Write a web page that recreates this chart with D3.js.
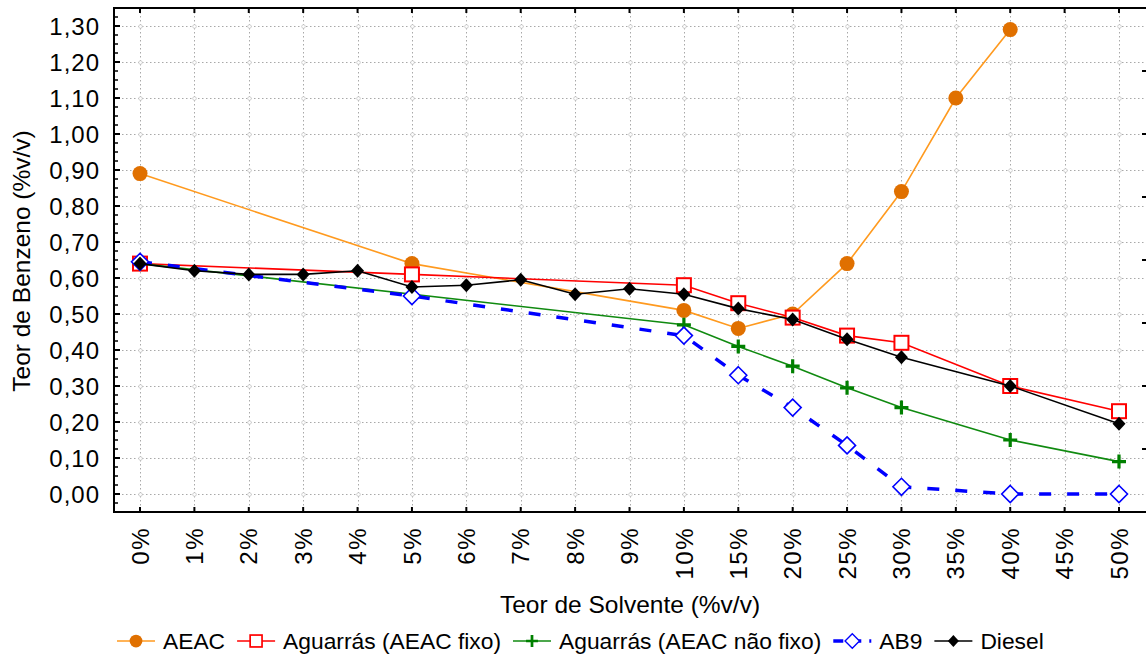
<!DOCTYPE html>
<html>
<head>
<meta charset="utf-8">
<script src="https://cdn.jsdelivr.net/npm/d3@7"></script>
<style>
  html, body { margin: 0; padding: 0; background: #fff; }
  svg { display: block; font-family: "Liberation Sans", Arial, sans-serif; }
</style>
</head>
<body>
<svg id="chart" width="1146" height="657"></svg>
<script>
// Solvent content categories (x axis)
const categories = ["0%","1%","2%","3%","4%","5%","6%","7%","8%","9%","10%",
                    "15%","20%","25%","30%","35%","40%","45%","50%"];

// Benzene content (%v/v) per category; null = not measured
const aeac            = [0.89, null, null, null, null, 0.64, null, null, null, null, 0.51, 0.46, 0.50, 0.64, 0.84, 1.10, 1.29, null, null];
const aguarrasFixo    = [0.64, null, null, null, null, 0.61, null, null, null, null, 0.58, 0.53, 0.49, 0.44, 0.42, null, 0.30, null, 0.23];
const aguarrasNaoFixo = [0.64, null, null, null, null, null, null, null, null, null, 0.47, 0.41, 0.355, 0.295, 0.24, null, 0.15, null, 0.09];
const ab9             = [0.645, null, null, null, null, 0.55, null, null, null, null, 0.44, 0.33, 0.24, 0.135, 0.02, null, 0.00, null, 0.00];
const diesel          = [0.64, 0.62, 0.61, 0.61, 0.62, 0.575, 0.58, 0.595, 0.555, 0.57, 0.555, 0.515, 0.485, 0.43, 0.38, null, 0.30, null, 0.195];

const seriesNames = ["AEAC", "Aguarrás (AEAC fixo)", "Aguarrás (AEAC não fixo)", "AB9", "Diesel"];
const yTickValues = [0, 0.1, 0.2, 0.3, 0.4, 0.5, 0.6, 0.7, 0.8, 0.9, 1.0, 1.1, 1.2, 1.3];

const svg = d3.select("#chart");
const plot = { left: 114, right: 1147, top: 8, bottom: 512 };

const x = d3.scalePoint().domain(categories).range([140, 1119]);
const y = d3.scaleLinear().domain([-0.05, 1.35]).range([plot.bottom, plot.top]);
// secondary (unlabelled) right axis divisions
const yRight = d3.scaleLinear().domain([0, 8]).range([plot.bottom, plot.top]);

const ptBR = d3.formatLocale({ decimal: ",", thousands: ".", grouping: [3], currency: ["", ""] });
const fmt = ptBR.format(".2f");

// ---- grid ----
const grid = svg.append("g");
grid.selectAll("line.h").data(yTickValues).join("line")
  .attr("x1", plot.left).attr("x2", plot.right)
  .attr("y1", d => Math.round(y(d)) + 0.5).attr("y2", d => Math.round(y(d)) + 0.5)
  .attr("stroke", "#a8a8a8").attr("stroke-width", 1).attr("stroke-dasharray", "1.5,2.5");
grid.selectAll("line.v").data(categories).join("line")
  .attr("x1", d => Math.round(x(d)) + 0.5).attr("x2", d => Math.round(x(d)) + 0.5)
  .attr("y1", plot.top).attr("y2", plot.bottom)
  .attr("stroke", "#a8a8a8").attr("stroke-width", 1).attr("stroke-dasharray", "1.5,2.5");
// small rings at grid crossings
const crossings = [];
yTickValues.forEach(v => categories.forEach(c => crossings.push([c, v])));
grid.selectAll("circle").data(crossings).join("circle")
  .attr("cx", d => Math.round(x(d[0])) + 0.5).attr("cy", d => Math.round(y(d[1])) + 0.5)
  .attr("r", 1.8).attr("fill", "#fff").attr("stroke", "#c4c4c4").attr("stroke-width", 0.8);

// ---- axes ----
const axes = svg.append("g").attr("stroke", "#000");
// frame lines
axes.append("line").attr("x1", plot.left).attr("x2", plot.right).attr("y1", plot.bottom).attr("y2", plot.bottom).attr("stroke-width", 2);
axes.append("line").attr("x1", plot.left).attr("x2", plot.right).attr("y1", plot.top).attr("y2", plot.top).attr("stroke-width", 2);
axes.append("line").attr("x1", plot.left).attr("x2", plot.left).attr("y1", plot.top - 1).attr("y2", plot.bottom + 1).attr("stroke-width", 2);

// left major + minor ticks (inward)
const minor = d3.range(-0.05, 1.3501, 0.025).filter(v => Math.abs(Math.round(v * 10) - v * 10) > 1e-6);
axes.selectAll("line.ymaj").data(yTickValues).join("line")
  .attr("x1", plot.left).attr("x2", plot.left + 6)
  .attr("y1", d => y(d)).attr("y2", d => y(d)).attr("stroke-width", 2);
axes.selectAll("line.ymin").data(minor).join("line")
  .attr("x1", plot.left).attr("x2", plot.left + 4)
  .attr("y1", d => y(d)).attr("y2", d => y(d)).attr("stroke-width", 1.5);
// bottom and top category ticks (inward)
axes.selectAll("line.xb").data(categories).join("line")
  .attr("x1", d => x(d)).attr("x2", d => x(d))
  .attr("y1", plot.bottom).attr("y2", plot.bottom - 5).attr("stroke-width", 2);
axes.selectAll("line.xt").data(categories).join("line")
  .attr("x1", d => x(d)).attr("x2", d => x(d))
  .attr("y1", plot.top).attr("y2", plot.top + 5).attr("stroke-width", 2);
// right-side ticks
axes.selectAll("line.yr").data(d3.range(1, 8)).join("line")
  .attr("x1", plot.right).attr("x2", plot.right - 5)
  .attr("y1", d => yRight(d)).attr("y2", d => yRight(d)).attr("stroke-width", 2);

// tick labels
svg.append("g").selectAll("text").data(yTickValues).join("text")
  .attr("x", 100).attr("y", d => y(d)).attr("dy", "0.36em")
  .attr("text-anchor", "end").attr("font-size", 24).attr("letter-spacing", 1)
  .attr("fill", "#000").text(d => fmt(d));

svg.append("g").selectAll("text").data(categories).join("text")
  .attr("transform", d => `translate(${x(d)},527) rotate(-90)`)
  .attr("dy", "0.36em").attr("text-anchor", "end")
  .attr("font-size", 24).attr("letter-spacing", 1.5)
  .attr("fill", "#000").text(d => d);

// axis titles
svg.append("text").attr("x", 630).attr("y", 613).attr("text-anchor", "middle")
  .attr("font-size", 24.5).text("Teor de Solvente (%v/v)");
svg.append("text").attr("transform", "translate(30,261) rotate(-90)").attr("text-anchor", "middle")
  .attr("font-size", 24.5).text("Teor de Benzeno (%v/v)");

// ---- series ----
const symbols = {
  circle: (g, s) => g.append("circle").attr("r", 7.5).attr("fill", s.marker),
  square: (g, s) => g.append("rect").attr("x", -7).attr("y", -7).attr("width", 14).attr("height", 14)
                     .attr("fill", "#fff").attr("stroke", s.marker).attr("stroke-width", 2),
  plus:   (g, s) => g.append("path").attr("d", "M-7,0H7M0,-7V7").attr("stroke", s.marker).attr("stroke-width", 3.2).attr("fill", "none"),
  diamondOpen: (g, s) => g.append("path").attr("d", "M0,-8.5L8.5,0L0,8.5L-8.5,0Z").attr("fill", "#fff").attr("stroke", s.marker).attr("stroke-width", 1.6),
  diamond: (g, s) => g.append("path").attr("d", "M0,-7L6.5,0L0,7L-6.5,0Z").attr("fill", s.marker)
};

const series = [
  { name: seriesNames[0], values: aeac,            line: "#ff9a1f", marker: "#e07000", width: 1.6, dash: null,    shape: "circle" },
  { name: seriesNames[1], values: aguarrasFixo,    line: "#ff0000", marker: "#ff0000", width: 1.6, dash: null,    shape: "square" },
  { name: seriesNames[2], values: aguarrasNaoFixo, line: "#108a10", marker: "#008000", width: 1.6, dash: null,    shape: "plus" },
  { name: seriesNames[3], values: ab9,             line: "#0000ff", marker: "#0000ff", width: 3.5, dash: "12,16", shape: "diamondOpen" },
  { name: seriesNames[4], values: diesel,          line: "#000000", marker: "#000000", width: 1.6, dash: null,    shape: "diamond" }
];

const lineGen = d3.line().x(d => x(d.cat)).y(d => y(d.v));

series.forEach(s => {
  const pts = categories.map((c, i) => ({ cat: c, v: s.values[i] })).filter(d => d.v !== null);
  const g = svg.append("g");
  g.append("path").datum(pts).attr("d", lineGen)
    .attr("fill", "none").attr("stroke", s.line).attr("stroke-width", s.width)
    .attr("stroke-dasharray", s.dash);
  g.selectAll("g.m").data(pts).join("g")
    .attr("transform", d => `translate(${x(d.cat)},${y(d.v)})`)
    .each(function () { symbols[s.shape](d3.select(this), s); });
});

// ---- legend ----
const legend = svg.append("g").attr("transform", "translate(0,641)");
let lx = 117;
series.forEach(s => {
  const item = legend.append("g").attr("transform", `translate(${lx},0)`);
  item.append("line").attr("x1", 0).attr("x2", 38).attr("y1", 0).attr("y2", 0)
    .attr("stroke", s.line).attr("stroke-width", s.dash ? 3.5 : 1.6)
    .attr("stroke-dasharray", s.dash ? "10,8" : null);
  const m = item.append("g").attr("transform", "translate(19,0) scale(0.85)");
  symbols[s.shape](m, s);
  const t = item.append("text").attr("x", 46).attr("dy", "0.36em").attr("font-size", 22.8).text(s.name);
  lx += 46 + t.node().getComputedTextLength() + 12;
});
</script>
</body>
</html>
